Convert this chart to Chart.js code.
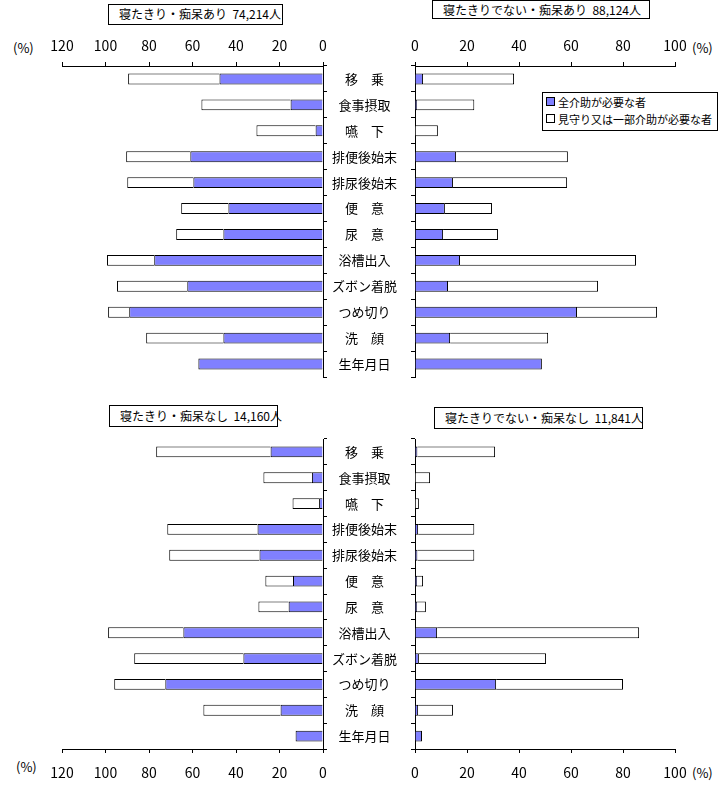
<!DOCTYPE html>
<html lang="ja">
<head>
<meta charset="utf-8">
<title>介助の必要度</title>
<script src="https://cdn.jsdelivr.net/npm/chart.js@4.4.1/dist/chart.umd.min.js"></script>
<style>
  html, body { margin: 0; padding: 0; background: #fff; }
  body { width: 725px; height: 795px; position: relative; overflow: hidden;
         font-family: "Noto Sans CJK JP", sans-serif; color: #000; }
  .box { position: absolute; }
  .title { position: absolute; border: 1px solid #000; background: #fff;
           font-size: 12px; line-height: 18px; white-space: pre; box-sizing: border-box; padding-left: 10px; }
  .unit { position: absolute; font-size: 13px; }
  .legend { position: absolute; border: 1px solid #000; background: #fff; box-sizing: border-box;
            font-size: 11px; line-height: 17px; padding: 1px 0 0 3px; white-space: nowrap; }
  .sw { display: inline-block; width: 7px; height: 7px; border: 1px solid #000; margin-right: 3px; vertical-align: 1px; }
</style>
</head>
<body>

<div class="title" style="left:108px;top:4px;width:175px;height:21px;">寝たきり・痴呆あり  74,214人</div>
<div class="title" style="left:432px;top:0px;width:218px;height:19px;">寝たきりでない・痴呆あり  88,124人</div>
<div class="title" style="left:109px;top:405px;width:169px;height:22px;line-height:20px;">寝たきり・痴呆なし  14,160人</div>
<div class="title" style="left:434px;top:407px;width:209px;height:22px;line-height:20px;">寝たきりでない・痴呆なし  11,841人</div>

<div class="unit" style="left:13px;top:38px;">(%)</div>
<div class="unit" style="left:692px;top:38px;">(%)</div>
<div class="unit" style="left:16px;top:757px;">(%)</div>
<div class="unit" style="left:692px;top:763px;">(%)</div>

<div class="box" style="left:30px;top:25px;width:385px;height:367px;"><canvas id="chart-tl"></canvas></div>
<div class="box" style="left:385px;top:25px;width:325px;height:367px;"><canvas id="chart-tr"></canvas></div>
<div class="box" style="left:30px;top:420px;width:385px;height:370px;"><canvas id="chart-bl"></canvas></div>
<div class="box" style="left:385px;top:420px;width:325px;height:370px;"><canvas id="chart-br"></canvas></div>

<div class="legend" style="left:542px;top:92px;width:176px;height:39px;">
  <div><span class="sw" style="background:#8080ff;"></span>全介助が必要な者</div>
  <div><span class="sw" style="background:#fff;"></span>見守り又は一部介助が必要な者</div>
</div>

<script>
  // categories (top to bottom)
  const categories = ['移　乗', '食事摂取', '嚥　下', '排便後始末', '排尿後始末', '便　意',
                      '尿　意', '浴槽出入', 'ズボン着脱', 'つめ切り', '洗　顔', '生年月日'];

  const seriesNames = ['全介助が必要な者', '見守り又は一部介助が必要な者'];

  // 寝たきり・痴呆あり
  const bedDemFull    = [47.6, 14.9, 3.4, 61.0, 59.6, 43.5, 45.8, 77.6, 62.4, 89.1, 45.8, 57.3];
  const bedDemPartial = [42.0, 41.0, 27.2, 29.5, 30.4, 21.7, 21.7, 21.7, 32.3, 9.7, 35.5, 0];

  // 寝たきりでない・痴呆あり
  const walkDemFull    = [3.1, 0.8, 0, 15.8, 14.6, 11.5, 10.8, 17.3, 12.7, 62.3, 13.5, 48.8];
  const walkDemPartial = [35.0, 22.0, 8.8, 43.0, 43.9, 18.1, 21.1, 67.7, 57.7, 30.8, 37.7, 0];

  // 寝たきり・痴呆なし
  const bedNoDemFull    = [24.1, 5.1, 1.8, 30.1, 29.2, 13.8, 15.8, 64.2, 36.6, 72.5, 19.5, 12.6];
  const bedNoDemPartial = [52.6, 22.3, 12.2, 41.5, 41.5, 12.7, 13.9, 34.6, 50.2, 23.5, 35.5, 0];

  // 寝たきりでない・痴呆なし
  const walkNoDemFull    = [0.9, 0, 0, 1.2, 0.9, 0.8, 0.8, 8.5, 1.5, 31.2, 1.2, 2.7];
  const walkNoDemPartial = [29.9, 5.8, 1.5, 21.6, 21.9, 2.3, 3.4, 77.7, 48.9, 48.8, 13.4, 0];

  // x-axis ranges
  const leftMax = 120;
  const rightMax = 100;
  const tickStep = 20;

  Chart.defaults.font.family = '"Noto Sans CJK JP", "Noto Sans", sans-serif';
  Chart.defaults.color = '#000';

  /**
   * Build one panel. side: 'left' (reversed, labels on the right) or 'right'.
   * xPos: 'top' or 'bottom'
   */
  function makePanel(id, side, xPos, full, partial) {
    const isLeft = side === 'left';
    const datasets = [
      { label: seriesNames[0], data: full, backgroundColor: '#8080ff' },
      { label: seriesNames[1], data: partial, backgroundColor: '#ffffff' }
    ].map(d => Object.assign(d, {
      borderColor: '#000',
      borderWidth: 1,
      categoryPercentage: 1,
      barPercentage: 0.42
    }));

    // padding keeps the plot area where the original has it
    const pad = isLeft
      ? { left: 32, right: 0 }
      : { left: 10, right: 35 };
    if (xPos === 'top') { pad.top = 0; pad.bottom = 15; } else { pad.top = 19; pad.bottom = 0; }

    return new Chart(document.getElementById(id), {
      type: 'bar',
      data: { labels: categories, datasets: datasets },
      options: {
        indexAxis: 'y',
        responsive: true,
        maintainAspectRatio: false,
        animation: false,
        layout: { padding: pad },
        plugins: { legend: { display: false }, tooltip: { enabled: false } },
        scales: {
          x: {
            stacked: true,
            position: xPos,
            reverse: isLeft,
            min: 0,
            max: isLeft ? leftMax : rightMax,
            border: { color: '#000', width: 1 },
            grid: { drawOnChartArea: false, drawTicks: true, tickLength: 4, tickColor: '#000' },
            ticks: { stepSize: tickStep, font: { size: 14 }, padding: xPos === 'top' ? 8 : 11, maxRotation: 0 },
            afterFit(scale) { scale.height = 41; }
          },
          y: {
            stacked: true,
            position: isLeft ? 'right' : 'left',
            border: { color: '#000', width: 1 },
            grid: { drawOnChartArea: false, drawTicks: true, tickLength: 4, tickColor: '#000', offset: true },
            ticks: {
              display: isLeft,
              font: { size: 13 },
              crossAlign: 'center',
              padding: 5
            },
            afterFit(scale) { scale.width = isLeft ? 92 : 20; }
          }
        }
      }
    });
  }

  makePanel('chart-tl', 'left', 'top', bedDemFull, bedDemPartial);
  makePanel('chart-tr', 'right', 'top', walkDemFull, walkDemPartial);
  makePanel('chart-bl', 'left', 'bottom', bedNoDemFull, bedNoDemPartial);
  makePanel('chart-br', 'right', 'bottom', walkNoDemFull, walkNoDemPartial);
</script>
</body>
</html>
